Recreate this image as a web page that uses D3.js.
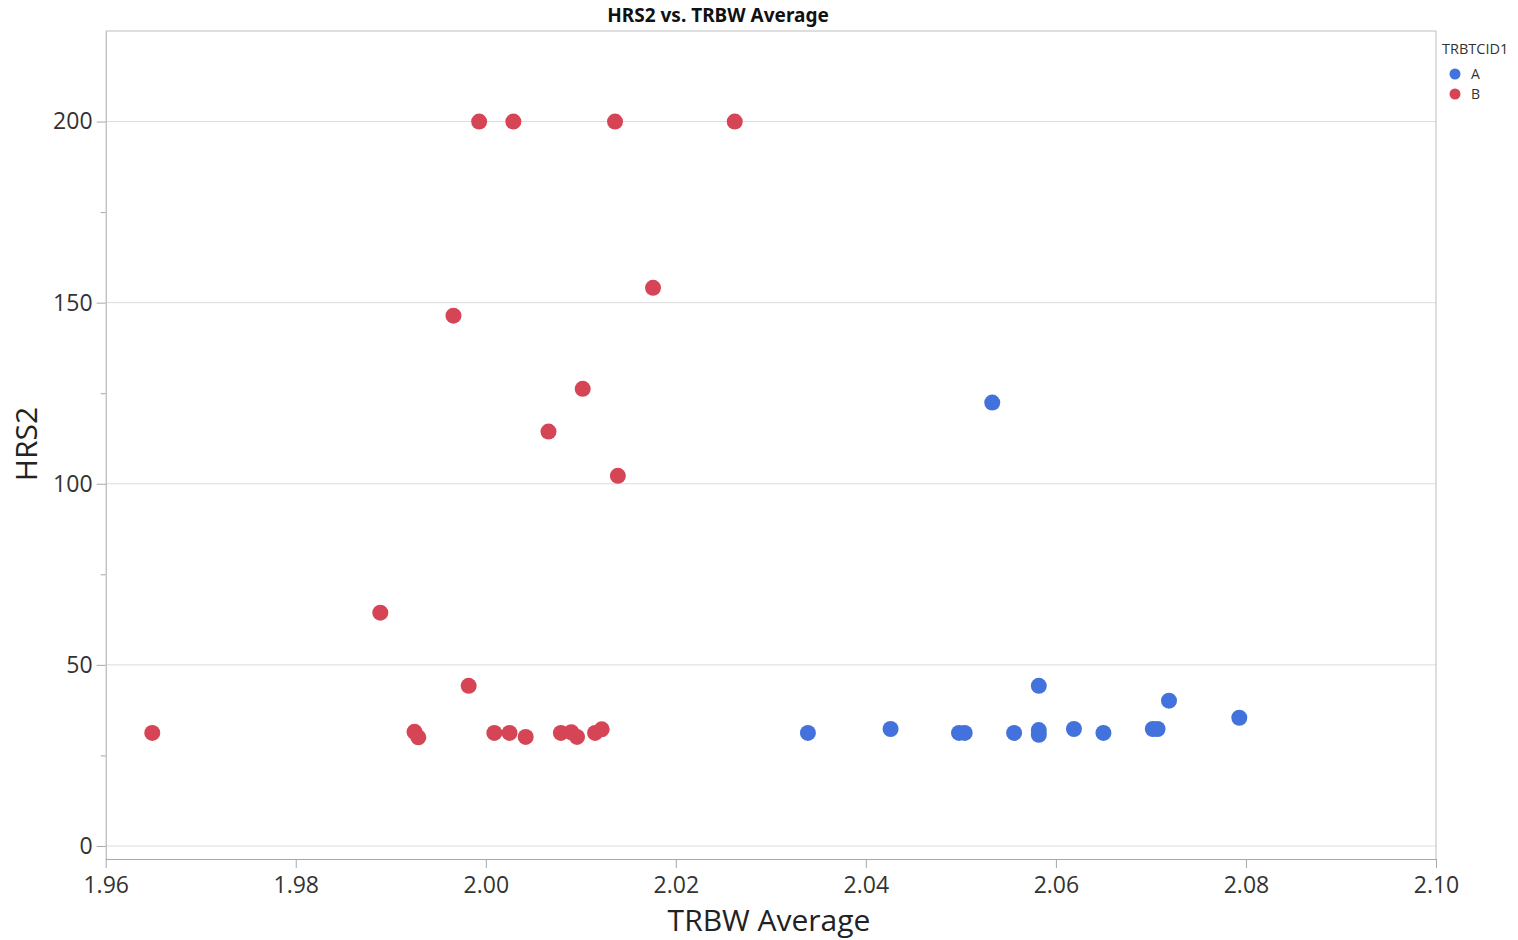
<!DOCTYPE html>
<html>
<head>
<meta charset="utf-8">
<script src="https://cdn.jsdelivr.net/npm/d3@7"></script>
<style>
  body { margin: 0; background: #fff; }
  text { font-family: "Open Sans", "Noto Sans", sans-serif; }
</style>
</head>
<body>
<div class="d3-container"></div>
<script>
const w = 1518
const h = 940

// data
const groups = ['A', 'B']
const colors = ['#4372dc', '#d64555']

const aX = [2.0339, 2.0426, 2.0498, 2.0504, 2.0556, 2.0582, 2.0582, 2.0582, 2.0619, 2.0650, 2.0702, 2.0707, 2.0719, 2.0793, 2.0533]
const aY = [31.2, 32.3, 31.2, 31.2, 31.2, 44.2, 32.0, 30.7, 32.3, 31.2, 32.3, 32.3, 40.1, 35.4, 122.4]

const bX = [1.9649, 1.9889, 1.9925, 1.9929, 1.9966, 1.9982, 1.9993, 2.0009, 2.0025, 2.0029, 2.0042, 2.0066, 2.0079, 2.0090, 2.0096, 2.0102, 2.0115, 2.0122, 2.0136, 2.0139, 2.0176, 2.0262]
const bY = [31.2, 64.4, 31.5, 30.0, 146.4, 44.2, 200, 31.2, 31.2, 200, 30.1, 114.4, 31.2, 31.4, 30.1, 126.2, 31.2, 32.2, 200, 102.2, 154.1, 200]

const xTicks = [1.96, 1.98, 2.00, 2.02, 2.04, 2.06, 2.08, 2.10]
const yTicks = [0, 50, 100, 150, 200]
const yMinor = [25, 75, 125, 175]

const mLeft = 105.7, mRight = 1436, mTop = 31, mBottom = 859

const svg = d3.select('.d3-container')
    .append('svg')
    .attr('width', w)
    .attr('height', h)

const x = d3.scaleLinear().domain([1.96, 2.10]).range([mLeft, mRight])
const y = d3.scaleLinear().domain([-3.6, 225]).range([mBottom, mTop])

// grid
svg.append('g')
    .selectAll('line')
    .data(yTicks)
    .enter()
    .append('line')
    .attr('x1', mLeft)
    .attr('x2', mRight)
    .attr('y1', d => y(d))
    .attr('y2', d => y(d))
    .attr('stroke', '#dcdcdc')
    .attr('stroke-width', 1)

// frame top / right
svg.append('path')
    .attr('d', `M${mLeft},${mTop}H${mRight}V${mBottom}`)
    .attr('fill', 'none')
    .attr('stroke', '#bdbdbd')

// axes
const xAxis = d3.axisBottom(x)
    .tickValues(xTicks)
    .tickFormat(d3.format('.2f'))
    .tickSize(9)
    .tickSizeOuter(0)

const gx = svg.append('g')
    .attr('transform', `translate(0, ${mBottom})`)
    .call(xAxis)

const yAxis = d3.axisLeft(y)
    .tickValues(yTicks)
    .tickSize(9)
    .tickSizeOuter(0)

const gy = svg.append('g')
    .attr('transform', `translate(${mLeft}, 0)`)
    .call(yAxis)

svg.append('g')
    .attr('transform', `translate(${mLeft}, 0)`)
    .call(d3.axisLeft(y).tickValues(yMinor).tickSize(5).tickFormat('').tickSizeOuter(0))
    .call(g => g.select('.domain').remove())
    .selectAll('line').attr('stroke', '#a8a8a8')

;[gx, gy].forEach(g => {
    g.select('.domain').attr('stroke', '#a8a8a8')
    g.selectAll('.tick line').attr('stroke', '#a8a8a8')
    g.selectAll('.tick text')
        .attr('fill', '#333')
        .style('font-size', '23px')
        .style('font-family', '"Open Sans", sans-serif')
})
gx.selectAll('.tick text').attr('dy', '0.95em')
gy.selectAll('.tick text').attr('dx', '-0.05em')

// points
const pts = [
    ...bX.map((d, i) => ({ x: d, y: bY[i], g: 'B' })),
    ...aX.map((d, i) => ({ x: d, y: aY[i], g: 'A' }))
]

svg.append('g')
    .selectAll('circle')
    .data(pts)
    .enter()
    .append('circle')
    .attr('cx', d => x(d.x))
    .attr('cy', d => y(d.y))
    .attr('r', 8)
    .attr('fill', d => colors[groups.indexOf(d.g)])

// title & labels
svg.append('text')
    .attr('x', 718)
    .attr('y', 22)
    .attr('text-anchor', 'middle')
    .style('font-size', '19px')
    .style('font-weight', 'bold')
    .style('font-family', '"Noto Sans", sans-serif')
    .attr('fill', '#111')
    .text('HRS2 vs. TRBW Average')

svg.append('text')
    .attr('x', 769)
    .attr('y', 931)
    .attr('text-anchor', 'middle')
    .style('font-size', '30px')
    .attr('fill', '#222')
    .text('TRBW Average')

svg.append('text')
    .attr('transform', 'translate(37, 444) rotate(-90)')
    .attr('text-anchor', 'middle')
    .style('font-size', '30px')
    .attr('fill', '#222')
    .text('HRS2')

// legend
const legend = svg.append('g')
    .attr('transform', 'translate(1442, 0)')

legend.append('text')
    .attr('x', 0)
    .attr('y', 54)
    .style('font-size', '14.5px')
    .attr('fill', '#333')
    .text('TRBTCID1')

legend.selectAll('circle')
    .data(groups)
    .enter()
    .append('circle')
    .attr('cx', 13)
    .attr('cy', (d, i) => 74 + i * 20)
    .attr('r', 5.5)
    .attr('fill', (d, i) => colors[i])

legend.selectAll('.lbl')
    .data(groups)
    .enter()
    .append('text')
    .attr('class', 'lbl')
    .attr('x', 29)
    .attr('y', (d, i) => 79 + i * 20)
    .style('font-size', '14px')
    .attr('fill', '#333')
    .text(d => d)
</script>
</body>
</html>
